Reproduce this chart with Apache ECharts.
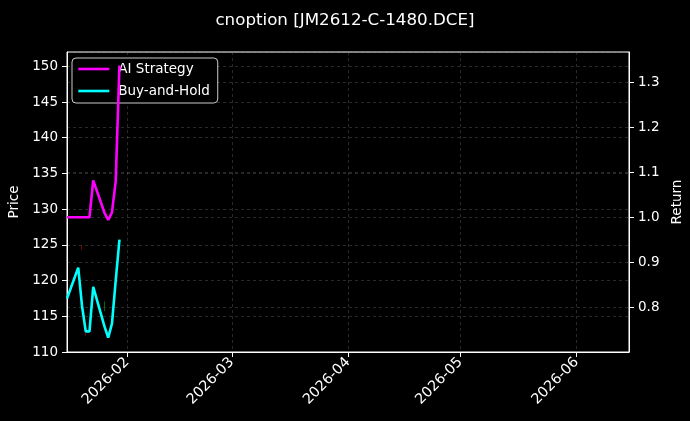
<!DOCTYPE html>
<html>
<head>
<meta charset="utf-8">
<script src="https://cdn.jsdelivr.net/npm/echarts@6/dist/echarts.min.js"></script>
<style>
html,body{margin:0;padding:0;background:#000;}
#chart{width:690px;height:421px;}
</style>
</head>
<body>
<div id="chart"></div>
<script>
// ---- data ----
const dates = ['2026-01-16','2026-01-19','2026-01-20','2026-01-21','2026-01-22','2026-01-23',
               '2026-01-26','2026-01-27','2026-01-28','2026-01-29','2026-01-30'];
const aiStrategy = [1.0, 1.0, 1.0, 1.0, 1.0, 1.082, 1.01, 0.994, 1.011, 1.08, 1.338];
const buyHold    = [0.819, 0.888, 0.803, 0.746, 0.746, 0.845, 0.757, 0.732, 0.763, 0.859, 0.95];
// visible price candles: date, open, close, low, high
const candleDates = ['2026-01-20','2026-01-21','2026-01-26'];
const candleOHLC  = [[124.8,124.4,124.3,124.9],[112.7,112.3,112.2,112.8],[115.9,116.9,115.7,117.1]];
const xStart = '2026-01-16';
const xEnd = '2026-06-15';
const monthTicks = ['2026-02-01','2026-03-01','2026-04-01','2026-05-01','2026-06-01'];
const priceTicks = {min:110, max:152, interval:5};
const returnTicks = {min:0.7, max:1.368, interval:0.1};
const titleText = 'cnoption [JM2612-C-1480.DCE]';

const ts = s => Date.UTC(+s.slice(0,4), +s.slice(5,7)-1, +s.slice(8,10));
const FONT = 'DejaVu Sans';
const GRIDLINE = {show:true,lineStyle:{color:'rgba(150,150,150,0.35)',type:[3,3],width:0.8}};

const chart = echarts.init(document.getElementById('chart'), null, {renderer:'canvas'});
chart.setOption({
  backgroundColor:'#000',
  animation:false,
  title:{text:titleText,left:'center',top:7,
    textStyle:{color:'#fff',fontSize:16.7,fontWeight:'normal',fontFamily:FONT}},
  grid:{left:67,right:61,top:52,bottom:69,outerBoundsMode:'none',containLabel:false,
    show:true,borderColor:'#fff',borderWidth:1,backgroundColor:'#000'},
  legend:{
    data:['AI Strategy','Buy-and-Hold'],
    orient:'vertical',left:72,top:58,z:1,
    padding:[4,8,5,5],itemGap:8,itemWidth:31,itemHeight:14,
    itemStyle:{opacity:0},
    lineStyle:{width:2.6},
    backgroundColor:'#000',borderColor:'#cccccc',borderWidth:1,borderRadius:4,
    textStyle:{color:'#fff',fontSize:13.5,fontFamily:FONT,padding:[0,0,0,4]}
  },
  xAxis:{
    type:'value',min:ts(xStart),max:ts(xEnd),scale:true,
    axisLine:{show:true,lineStyle:{color:'#fff'}},
    axisTick:{show:true,length:5,lineStyle:{color:'#fff'},customValues:monthTicks.map(ts)},
    axisLabel:{color:'#fff',fontSize:14.3,fontFamily:FONT,rotate:45,margin:8,
      customValues:monthTicks.map(ts),
      formatter:v=>{const d=new Date(v);return d.getUTCFullYear()+'-'+String(d.getUTCMonth()+1).padStart(2,'0');}},
    splitLine:GRIDLINE
  },
  yAxis:[
    {type:'value',position:'left',min:priceTicks.min,max:priceTicks.max,interval:priceTicks.interval,
     name:'Price',nameLocation:'middle',nameGap:40,nameRotate:90,
     nameTextStyle:{color:'#fff',fontSize:13.5,fontFamily:FONT},
     axisLine:{show:true,lineStyle:{color:'#fff'}},
     axisTick:{show:true,length:5,lineStyle:{color:'#fff'}},
     axisLabel:{color:'#fff',fontSize:13.5,fontFamily:FONT,margin:9,showMaxLabel:false},
     splitLine:GRIDLINE},
    {type:'value',position:'right',min:returnTicks.min,max:returnTicks.max,interval:returnTicks.interval,
     name:'Return',nameLocation:'middle',nameGap:33,nameRotate:90,
     nameTextStyle:{color:'#fff',fontSize:13.5,fontFamily:FONT},
     axisLine:{show:true,lineStyle:{color:'#fff'}},
     axisTick:{show:true,length:5,lineStyle:{color:'#fff'}},
     axisLabel:{color:'#fff',fontSize:13.5,fontFamily:FONT,margin:9,showMinLabel:false,showMaxLabel:false,
       formatter:v=>v.toFixed(1)},
     splitLine:GRIDLINE}
  ],
  series:[
    {type:'candlestick',name:'Price',yAxisIndex:0,z:2,barWidth:1,
     itemStyle:{color:'rgba(0,170,0,0.6)',color0:'rgba(200,0,0,0.6)',borderColor:'rgba(0,170,0,0.6)',borderColor0:'rgba(200,0,0,0.6)',borderWidth:1},
     data:candleDates.map((d,i)=>[ts(d)].concat(candleOHLC[i]))},
    {type:'line',name:'AI Strategy',yAxisIndex:1,z:5,showSymbol:false,symbol:'none',
     lineStyle:{color:'#ff00ff',width:2.6},itemStyle:{color:'#ff00ff'},
     data:dates.map((d,i)=>[ts(d),aiStrategy[i]])},
    {type:'line',name:'Buy-and-Hold',yAxisIndex:1,z:5,showSymbol:false,symbol:'none',
     lineStyle:{color:'#00ffff',width:2.6},itemStyle:{color:'#00ffff'},
     data:dates.map((d,i)=>[ts(d),buyHold[i]])}
  ]
});
</script>
</body>
</html>
